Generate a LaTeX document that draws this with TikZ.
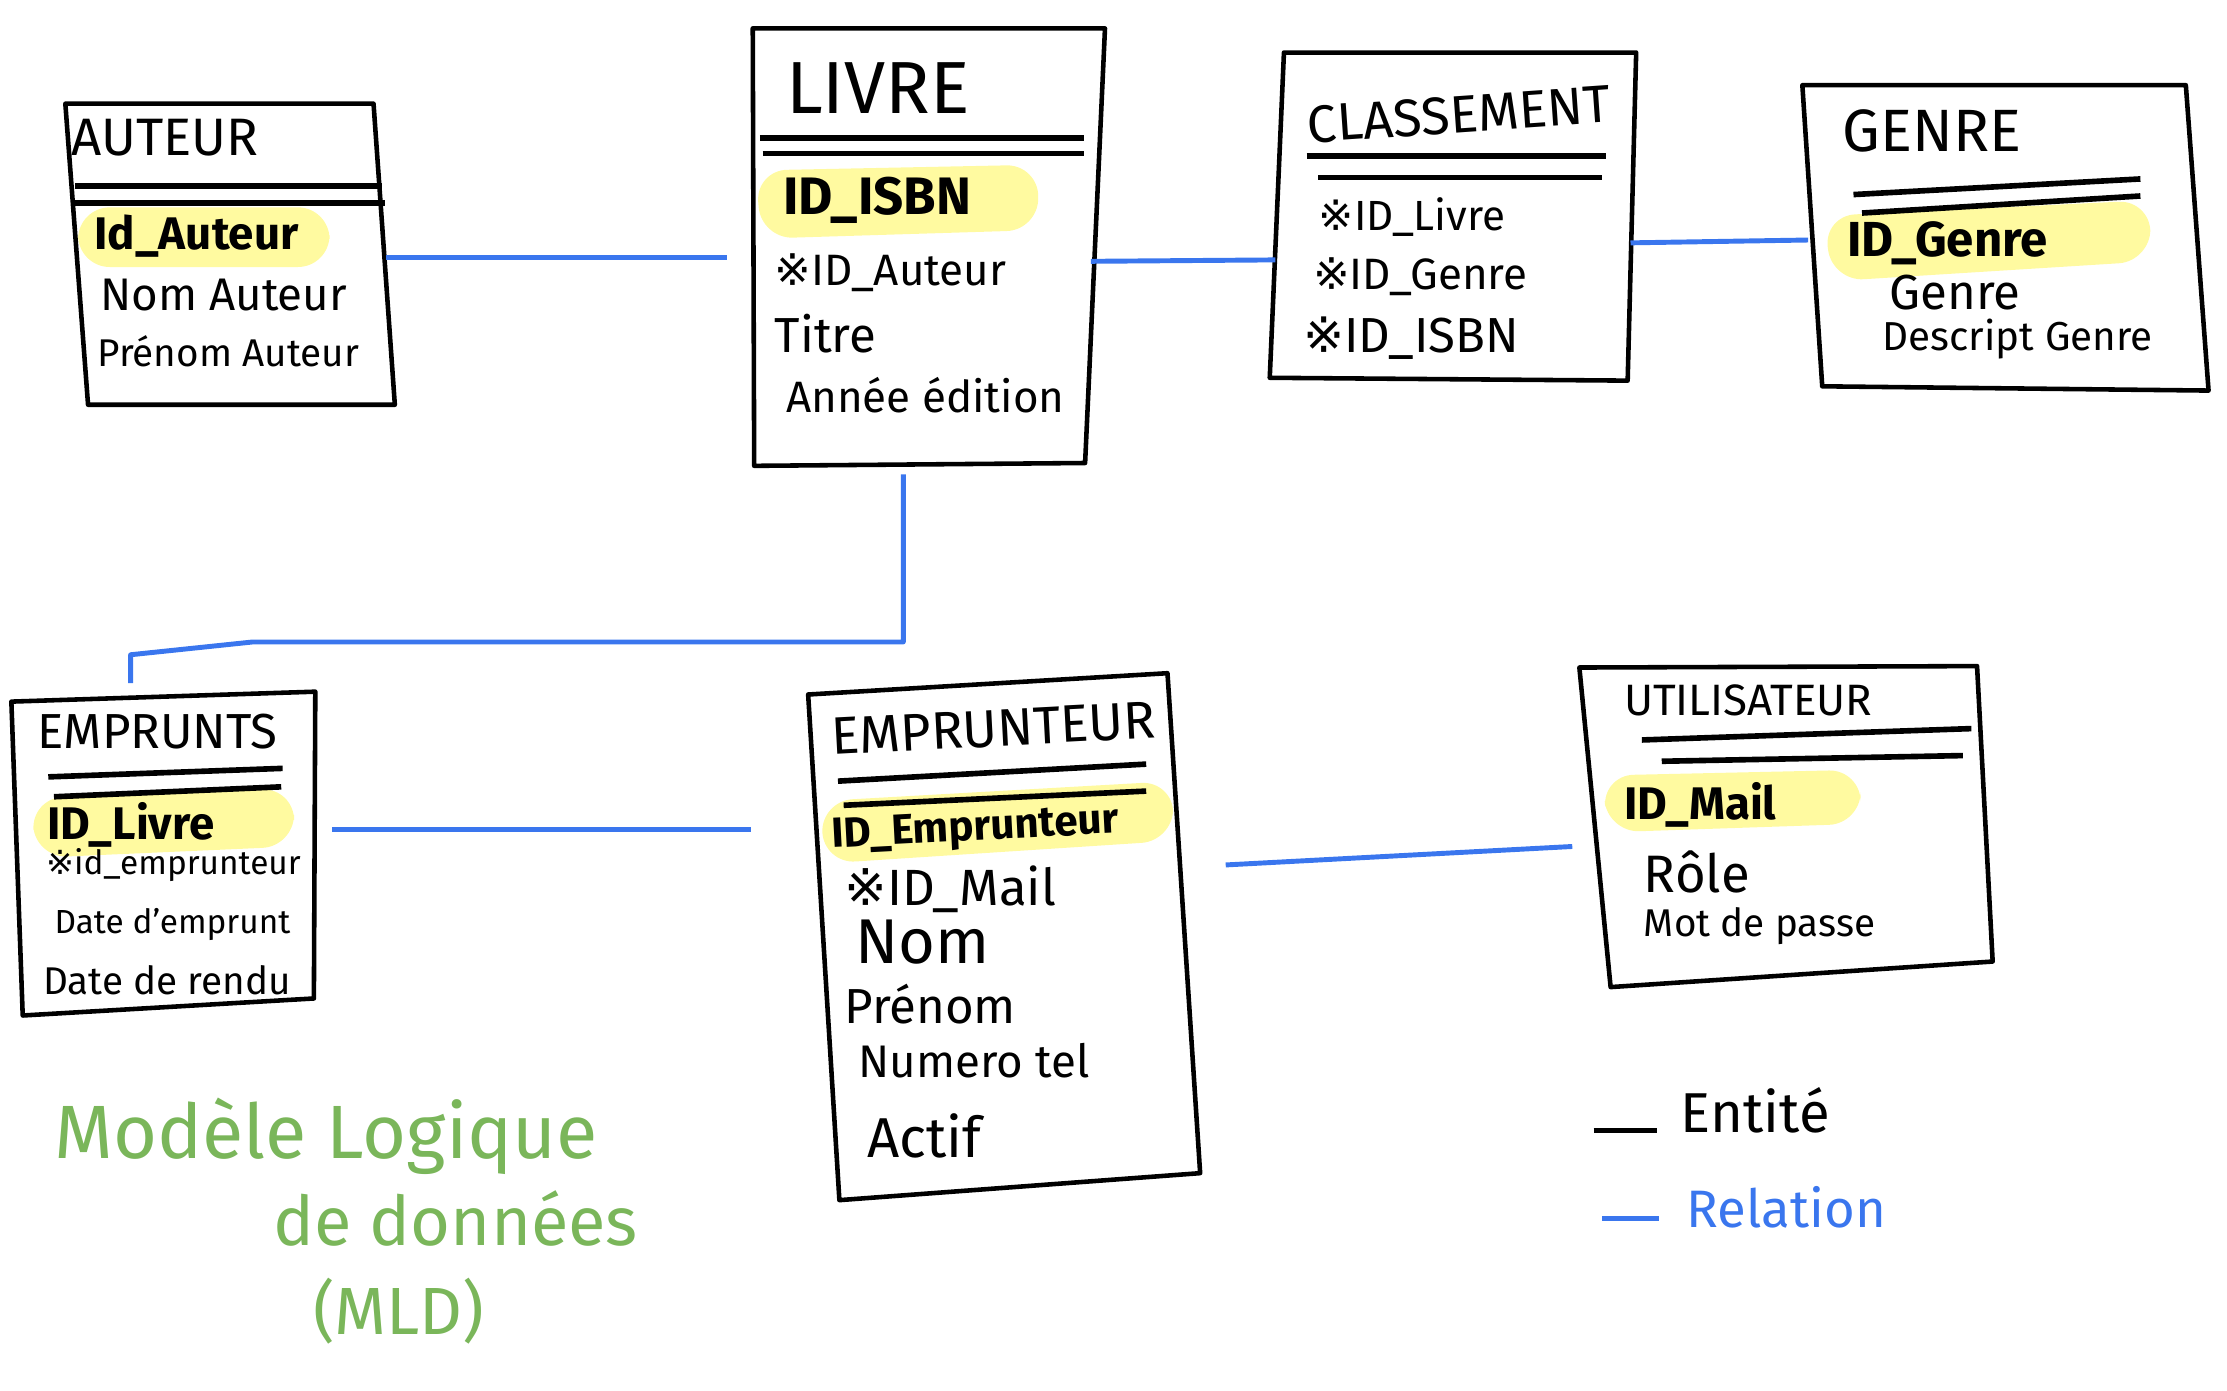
\documentclass[tikz,border=0pt]{standalone}
\usepackage{fontspec}
\setmainfont{Fira Sans}
\newfontfamily\symf{DejaVu Sans}
\newcommand{\rfm}{{\symf ※}}
\newcommand{\fsz}[1]{\fontsize{#1}{#1}\selectfont}
\definecolor{relblue}{RGB}{58,118,238}
\definecolor{hly}{RGB}{255,250,160}
\definecolor{mldgreen}{RGB}{122,182,90}
\tikzset{
  box/.style={line width=1.3pt, line join=round},
  sepline/.style={line width=1.6pt},
  rel/.style={draw=relblue, line width=1.4pt},
  hl/.style={fill=hly, draw=none, rounded corners=9pt},
  txt/.style={anchor=west, inner sep=0pt},
}
\begin{document}
\begin{tikzpicture}[x=0.0142cm,y=-0.0142cm]
\useasboundingbox (0,0) rectangle (1568,979);

% ---------- highlights ----------
\fill[hl] (55,146) -- (232,146) -- (232,188) -- (55,188) -- cycle;
\fill[hl] (532,120) -- (731,116) -- (731,162) -- (536,168) -- cycle;
\fill[hl] (1284,152) -- (1514,141) -- (1514,184) -- (1290,198) -- cycle;
\fill[hl] (22,562) -- (207,555) -- (207,596) -- (25,604) -- cycle;
\fill[hl] (578,564) -- (826,550) -- (826,592) -- (580,608) -- cycle;
\fill[hl] (1128,546) -- (1310,542) -- (1310,580) -- (1132,586) -- cycle;

% ---------- AUTEUR ----------
\coordinate (au1) at (46,73); \coordinate (au2) at (263,73);
\coordinate (au3) at (278,285); \coordinate (au4) at (62,285);
\draw[box] (au1) -- (au2) -- (au3) -- (au4) -- cycle;
\draw[sepline] (53,131) -- (269,131) (53,143) -- (271,143);
\node[txt, font=\fsz{15}] (auT) at (50,97) {AUTEUR};
\node[txt, font=\fsz{13}\bfseries] (au_a) at (66,166) {Id\_Auteur};
\node[txt, font=\fsz{13}] (au_b) at (70,208) {Nom Auteur};
\node[txt, font=\fsz{11}] (au_c) at (68,247) {Prénom Auteur};

% ---------- LIVRE ----------
\coordinate (li1) at (530,20); \coordinate (li2) at (778,20);
\coordinate (li3) at (764,326); \coordinate (li4) at (531,328);
\draw[box] (li1) -- (li2) -- (li3) -- (li4) -- cycle;
\draw[sepline] (535,97) -- (763,97) (537,108) -- (763,108);
\node[txt, font=\fsz{21}] (liT) at (553,62) {LIVRE};
\node[txt, font=\fsz{15}\bfseries] (li_a) at (551,141) {ID\_ISBN};
\node[txt, font=\fsz{12.5}] (li_b) at (545,192) {\rfm ID\_Auteur};
\node[txt, font=\fsz{14}] (li_c) at (545,235) {Titre};
\node[txt, font=\fsz{12.5}] (li_d) at (553,278) {Année édition};

% ---------- CLASSEMENT ----------
\coordinate (cl1) at (904,37); \coordinate (cl2) at (1152,37);
\coordinate (cl3) at (1146,268); \coordinate (cl4) at (894,266);
\draw[box] (cl1) -- (cl2) -- (cl3) -- (cl4) -- cycle;
\draw[sepline] (920,110) -- (1131,110) (928,125) -- (1128,125);
\node[txt, font=\fsz{15}, rotate=4] (clT) at (920,88) {CLASSEMENT};
\node[txt, font=\fsz{12}] (cl_a) at (928,153) {\rfm ID\_Livre};
\node[txt, font=\fsz{12.5}] (cl_b) at (924,195) {\rfm ID\_Genre};
\node[txt, font=\fsz{14}] (cl_c) at (917,238) {\rfm ID\_ISBN};

% ---------- GENRE ----------
\coordinate (ge1) at (1269,60); \coordinate (ge2) at (1539,60);
\coordinate (ge3) at (1555,275); \coordinate (ge4) at (1283,272);
\draw[box] (ge1) -- (ge2) -- (ge3) -- (ge4) -- cycle;
\draw[sepline] (1305,137) -- (1507,126) (1311,150) -- (1507,138);
\node[txt, font=\fsz{17}] (geT) at (1297,92) {GENRE};
\node[txt, font=\fsz{14}\bfseries] (ge_a) at (1300,171) {ID\_Genre};
\node[txt, font=\fsz{14}] (ge_b) at (1330,206) {Genre};
\node[txt, font=\fsz{11.5}] (ge_c) at (1325,239) {Descript Genre};

% ---------- EMPRUNTS ----------
\coordinate (ep1) at (8,494); \coordinate (ep2) at (222,487);
\coordinate (ep3) at (221,703); \coordinate (ep4) at (16,715);
\draw[box] (ep1) -- (ep2) -- (ep3) -- (ep4) -- cycle;
\draw[sepline] (34,547) -- (199,541) (38,561) -- (198,554);
\node[txt, font=\fsz{14}] (epT) at (26,515) {EMPRUNTS};
\node[txt, font=\fsz{13}\bfseries] (ep_a) at (33,581) {ID\_Livre};
\node[txt, font=\fsz{9.5}] (ep_b) at (32,609) {\rfm id\_emprunteur};
\node[txt, font=\fsz{9.5}] (ep_c) at (38,651) {Date d'emprunt};
\node[txt, font=\fsz{11}] (ep_d) at (30,690) {Date de rendu};

% ---------- EMPRUNTEUR ----------
\coordinate (er1) at (569,489); \coordinate (er2) at (822,474);
\coordinate (er3) at (845,826); \coordinate (er4) at (591,845);
\draw[box] (er1) -- (er2) -- (er3) -- (er4) -- cycle;
\draw[sepline] (590,550) -- (807,538) (594,567) -- (807,557);
\node[txt, font=\fsz{15}, rotate=3] (erT) at (585,519) {EMPRUNTEUR};
\node[txt, font=\fsz{12}\bfseries, rotate=3] (er_a) at (585,590) {ID\_Emprunteur};
\node[txt, font=\fsz{14.5}] (er_b) at (594,626) {\rfm ID\_Mail};
\node[txt, font=\fsz{18}] (er_c) at (602,663) {Nom};
\node[txt, font=\fsz{14}] (er_d) at (594,707) {Prénom};
\node[txt, font=\fsz{13}] (er_e) at (604,747) {Numero tel};
\node[txt, font=\fsz{16}] (er_f) at (610,800) {Actif};

% ---------- UTILISATEUR ----------
\coordinate (ut1) at (1112,470); \coordinate (ut2) at (1392,469);
\coordinate (ut3) at (1403,677); \coordinate (ut4) at (1134,695);
\draw[box] (ut1) -- (ut2) -- (ut3) -- (ut4) -- cycle;
\draw[sepline] (1156,521) -- (1388,513) (1170,536) -- (1382,532);
\node[txt, font=\fsz{12.5}] (utT) at (1143,493) {UTILISATEUR};
\node[txt, font=\fsz{13}\bfseries] (ut_a) at (1143,567) {ID\_Mail};
\node[txt, font=\fsz{15}] (ut_b) at (1157,614) {Rôle};
\node[txt, font=\fsz{11}] (ut_c) at (1157,652) {Mot de passe};

% ---------- relations ----------
\coordinate (r1a) at (272,181); \coordinate (r1b) at (512,181);
\draw[rel] (r1a) -- (r1b);
\coordinate (r2a) at (768,184); \coordinate (r2b) at (898,183);
\draw[rel] (r2a) -- (r2b);
\coordinate (r3a) at (1148,171); \coordinate (r3b) at (1273,169);
\draw[rel] (r3a) -- (r3b);
\coordinate (r4a) at (636,334); \coordinate (r4k1) at (636,452);
\coordinate (r4k2) at (178,452); \coordinate (r4k3) at (92,461);
\coordinate (r4b) at (92,481);
\draw[rel, line join=round] (r4a) -- (r4k1) -- (r4k2) -- (r4k3) -- (r4b);
\coordinate (r5a) at (234,584); \coordinate (r5b) at (529,584);
\draw[rel] (r5a) -- (r5b);
\coordinate (r6a) at (863,609); \coordinate (r6b) at (1107,596);
\draw[rel] (r6a) -- (r6b);

% ---------- legend ----------
\coordinate (lg1a) at (1122,796); \coordinate (lg1b) at (1167,796);
\draw[line width=1.4pt] (lg1a) -- (lg1b);
\node[txt, font=\fsz{16}] (lgE) at (1183,782) {Entité};
\coordinate (lg2a) at (1128,858); \coordinate (lg2b) at (1168,858);
\draw[rel] (lg2a) -- (lg2b);
\node[txt, font=\fsz{15}, text=relblue] (lgR) at (1187,850) {Relation};

% ---------- title ----------
\node[txt, font=\fsz{21.5}, text=mldgreen] (m1) at (38,800) {Modèle Logique};
\node[txt, font=\fsz{19.5}, text=mldgreen] (m2) at (192,858) {de données};
\node[txt, font=\fsz{19}, text=mldgreen] (m3) at (220,923) {(MLD)};
\end{tikzpicture}
\end{document}
